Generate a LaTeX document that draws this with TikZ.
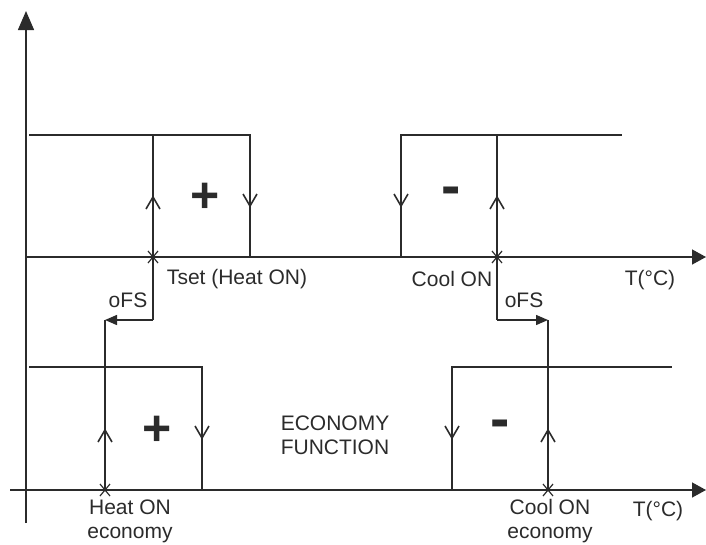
\documentclass[tikz,border=0pt]{standalone}
\usepackage{fontspec}
\setmainfont{Liberation Sans}
\usetikzlibrary{arrows.meta,calc}
\definecolor{ink}{HTML}{2B2B2B}
\tikzset{
  ln/.style={draw=ink, line width=1.4pt},
  axis/.style={ln, -{Triangle[length=14pt,width=15pt]}},
  tip/.style={ln, line width=1.6pt, line join=miter},
  lbl/.style={text=ink, font=\fontsize{21}{24}\selectfont, inner sep=0pt},
  sgn/.style={text=ink, font=\fontsize{50}{50}\selectfont\bfseries, inner sep=0pt},
  mns/.style={text=ink, font=\fontsize{58}{58}\selectfont\bfseries, inner sep=0pt},
  ofs/.style={ln, -{Triangle[length=12pt,width=10pt]}}
}
\newcommand{\uparr}[1]{\draw[tip] ($(#1)+(-7,12)$) -- (#1) -- ($(#1)+(7,12)$);}
\newcommand{\dnarr}[1]{\draw[tip] ($(#1)+(-7,-12)$) -- (#1) -- ($(#1)+(7,-12)$);}
\newcommand{\xmark}[1]{\draw[ln, line width=1.2pt] ($(#1)+(-5,-6)$) -- ($(#1)+(5,6)$) ($(#1)+(-5,6)$) -- ($(#1)+(5,-6)$);}
\begin{document}
\begin{tikzpicture}[x=1pt,y=-1pt]
\useasboundingbox (0,0) rectangle (706,544);
% axes
\coordinate (vbot) at (26,523);
\coordinate (vtop) at (26,11);
\draw[ln, -{Triangle[length=19pt,width=16pt]}] (vbot) -- (vtop);
\coordinate (ua0) at (26,257);
\coordinate (ua1) at (706,257);
\draw[axis] (ua0) -- (ua1);
\coordinate (la0) at (10,490);
\coordinate (la1) at (706,490);
\draw[axis] (la0) -- (la1);
% upper heat
\coordinate (h1t) at (153,135);
\coordinate (h1b) at (153,257);
\coordinate (h1o) at (153,320);
\coordinate (h2t) at (250,135);
\coordinate (h2b) at (250,257);
\draw[ln] (29,135) -- (h2t) -- (h2b);
\draw[ln] (h1t) -- (h1o);
\uparr{153,197}
\dnarr{250,206}
\node[sgn] (plus1) at (205,198) {+};
% upper cool
\coordinate (c1t) at (401,135);
\coordinate (c1b) at (401,257);
\coordinate (c2t) at (497,135);
\coordinate (c2o) at (497,320);
\coordinate (c2e) at (622,135);
\draw[ln] (c1b) -- (c1t) -- (c2e);
\draw[ln] (c2t) -- (c2o);
\dnarr{401,206}
\uparr{497,197}
\node[mns] (minus1) at (451,196) {-};
% oFS
\coordinate (lo) at (105,320);
\coordinate (ro) at (548,320);
\draw[ofs] (h1o) -- (lo);
\draw[ofs] (c2o) -- (ro);
\node[lbl] (ofsl) at (128,300) {oFS};
\node[lbl] (ofsr) at (524,300) {oFS};
% lower heat
\coordinate (e1b) at (105,490);
\coordinate (e2t) at (202,367);
\coordinate (e2b) at (202,490);
\draw[ln] (lo) -- (e1b);
\draw[ln] (29,367) -- (e2t) -- (e2b);
\uparr{105,430}
\dnarr{202,438}
\node[sgn] (plus2) at (157,431) {+};
% lower cool
\coordinate (d1t) at (452,367);
\coordinate (d1b) at (452,490);
\coordinate (d2b) at (548,490);
\coordinate (d2e) at (672,367);
\draw[ln] (d1b) -- (d1t) -- (d2e);
\draw[ln] (ro) -- (d2b);
\dnarr{452,438}
\uparr{548,430}
\node[mns] (minus2) at (500,429) {-};
% crosses
\xmark{153,257}
\xmark{497,257}
\xmark{105,490}
\xmark{548,490}
% labels
\node[lbl] (tset) at (237,279) {Tset (Heat ON)};
\node[lbl] (cool) at (452,279) {Cool ON};
\node[lbl] (t1) at (650,280) {T(\textdegree C)};
\node[lbl, align=center] (eco) at (335,435) {ECONOMY\\FUNCTION};
\node[lbl, align=center] (heco) at (130,521) {Heat ON\\economy};
\node[lbl, align=center] (ceco) at (550,521) {Cool ON\\economy};
\node[lbl] (t2) at (658,511) {T(\textdegree C)};
\end{tikzpicture}
\end{document}
